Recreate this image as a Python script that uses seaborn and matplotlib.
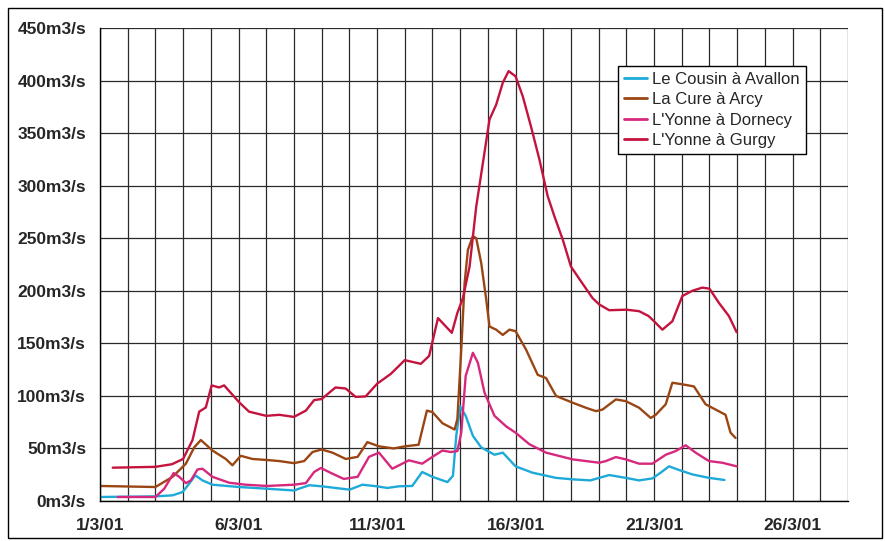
import matplotlib
matplotlib.use("Agg")
import matplotlib.pyplot as plt
import seaborn as sns
import pandas as pd
from matplotlib.ticker import MultipleLocator, FixedLocator
from matplotlib.patches import Rectangle

# ---- data (days since 1/3/01, discharge m3/s) ----
cousin_days = [0, 2, 2.62, 2.98, 3.22, 3.44, 3.7, 4.06, 5.02, 6.02, 7, 7.55, 8, 8.5, 9.01, 9.47,
               9.99, 10.37, 10.8, 11.27, 11.63, 12, 12.54, 12.74, 12.86, 13.0, 13.2, 13.46, 13.76,
               14.24, 14.54, 15, 15.6, 16.46, 17.06, 17.7, 18.02, 18.38, 18.98, 19.46, 19.94, 20.24,
               20.54, 20.9, 21.38, 21.98, 22.54]
cousin_vals = [3.8, 4.4, 5.4, 8.5, 16.5, 24.4, 19.6, 15.5, 13.3, 11.7, 10, 15, 14, 12.4, 10.8, 15.5,
               14, 12.4, 14, 14.3, 27.6, 23, 18, 24, 62, 90, 81, 62, 51,
               44, 46, 33, 27, 22, 20.6, 19.6, 22, 24.7, 22, 19.6, 21.5, 27,
               33, 29.5, 25.3, 22, 20]

cure_days = [0, 2, 2.62, 3.1, 3.4, 3.64, 4.06, 4.54, 4.78, 5.08, 5.5, 6.02, 6.47, 7, 7.37, 7.67, 8,
             8.39, 8.87, 9.3, 9.65, 10.07, 10.6, 11, 11.5, 11.8, 12, 12.36, 12.8, 12.9, 13.04, 13.16,
             13.28, 13.46, 13.58, 13.76, 13.94, 14.06, 14.3, 14.54, 14.78, 15, 15.38, 15.8, 16.1,
             16.46, 17.06, 17.54, 17.9, 18.14, 18.62, 18.98, 19.46, 19.88, 20.06, 20.42, 20.66,
             21.02, 21.44, 21.86, 22.22, 22.58, 22.76, 22.94]
cure_vals = [14.3, 13.3, 23, 35.5, 51, 58, 48, 40, 34, 43, 40, 39, 38, 36, 38, 46.6, 49,
             46, 40, 42, 56, 52, 50, 52, 53.5, 86, 84.6, 74, 68, 78, 144, 207,
             239, 252, 250, 226.5, 192, 166, 163, 158, 163, 161.6, 144, 120, 117,
             100, 93.5, 88.7, 85.5, 87, 96.6, 95, 88.7, 79, 82, 92, 112.5,
             111, 109, 92, 87, 82, 65, 60]

dornecy_days = [0.64, 2, 2.32, 2.66, 2.86, 3.1, 3.28, 3.52, 3.7, 4.06, 4.66, 5.26, 6.02, 7, 7.43,
                7.73, 7.97, 8.39, 8.8, 9.3, 9.71, 10.07, 10.55, 11.15, 11.63, 12, 12.36, 12.66, 12.9,
                13.04, 13.2, 13.46, 13.64, 13.88, 14.24, 14.66, 15, 15.5, 16.1, 17.06, 18.02, 18.26,
                18.62, 18.98, 19.46, 19.94, 20.42, 20.78, 21.14, 21.5, 21.98, 22.46, 22.98]
dornecy_vals = [3.8, 3.8, 11.7, 26.6, 23, 17, 19.6, 30, 30.7, 23, 17.4, 15.5, 14.3, 15.5, 17,
                27.6, 31.4, 26, 21, 23, 42, 46, 30.7, 38.7, 35.5, 42, 48, 46.6, 47.5,
                65, 119, 141, 131.5, 103, 81, 71, 65, 54, 46, 39.6, 36.4, 38,
                41.8, 39.6, 35.5, 35.5, 44, 47.5, 53, 46, 38, 36.4, 33]

gurgy_days = [0.46, 2, 2.6, 3, 3.34, 3.58, 3.82, 4.03, 4.3, 4.48, 5.02, 5.38, 6, 6.47, 7, 7.43, 7.73, 8,
              8.5, 8.87, 9.23, 9.59, 10, 10.5, 11, 11.58, 11.88, 12.2, 12.7, 12.9, 13.1, 13.34,
              13.58, 13.8, 14.06, 14.3, 14.54, 14.75, 15, 15.26, 15.56, 15.86, 16.16, 16.4, 16.7,
              17, 17.4, 17.78, 18.02, 18.38, 19, 19.46, 19.8, 20, 20.3, 20.66, 21.02, 21.38, 21.74,
              22, 22.34, 22.7, 22.98]
gurgy_vals = [31.7, 32.5, 35, 40, 58, 85, 89, 110, 108, 110, 94, 85, 81, 82, 80, 86, 96, 97,
              108, 107, 99, 99.5, 111.5, 121, 134, 130.5, 138, 174, 160, 179, 193, 223,
              280, 318, 363, 377, 398, 409, 404, 385, 356, 325, 290, 271, 249,
              223, 207.5, 193, 187, 181.5, 182, 180.6, 176, 171, 163, 171, 195, 200, 203,
              202, 188.5, 176, 160.6]

series_names = ["Le Cousin à Avallon", "La Cure à Arcy", "L'Yonne à Dornecy", "L'Yonne à Gurgy"]
series_colors = ["#1eaad8", "#9a4614", "#d6287c", "#c4133d"]
x_tick_pos = [0, 5, 10, 15, 20, 25]
x_tick_labels = ["1/3/01", "6/3/01", "11/3/01", "16/3/01", "21/3/01", "26/3/01"]
y_ticks = [0, 50, 100, 150, 200, 250, 300, 350, 400, 450]
y_tick_labels = [f"{v}m3/s" for v in y_ticks]

frames = []
for name, d, v in zip(series_names,
                      [cousin_days, cure_days, dornecy_days, gurgy_days],
                      [cousin_vals, cure_vals, dornecy_vals, gurgy_vals]):
    frames.append(pd.DataFrame({"day": d, "q": v, "station": name}))
df = pd.concat(frames, ignore_index=True)

sns.set_style("white")
plt.rcParams["font.family"] = ["Liberation Sans", "DejaVu Sans"]

fig = plt.figure(figsize=(8.85, 5.41), dpi=100)
ax = fig.add_axes([100 / 885, 1 - 501 / 541, (848 - 100) / 885, (501 - 28) / 541])

sns.lineplot(data=df, x="day", y="q", hue="station", hue_order=series_names,
             palette=dict(zip(series_names, series_colors)), estimator=None, sort=False,
             linewidth=1.7, ax=ax)

ax.set_xlim(0, 27)
ax.set_ylim(0, 450)
ax.xaxis.set_major_locator(FixedLocator(x_tick_pos))
ax.set_xticklabels(x_tick_labels, fontsize=12.5, fontweight="bold")
ax.xaxis.set_minor_locator(MultipleLocator(1))
ax.set_yticks(y_ticks)
ax.set_yticklabels(y_tick_labels, fontsize=12.5, fontweight="bold")
ax.set_xlabel("")
ax.set_ylabel("")

ax.grid(True, which="both", axis="x", color="#2a2a2a", linewidth=0.9)
ax.grid(True, which="major", axis="y", color="#2a2a2a", linewidth=0.9)
ax.set_axisbelow(True)
for s in ["top", "right"]:
    ax.spines[s].set_visible(False)
for s in ["left", "bottom"]:
    ax.spines[s].set_color("black")
    ax.spines[s].set_linewidth(1.0)
ax.tick_params(axis="x", which="major", direction="out", length=4, width=1, color="black", pad=8)
ax.tick_params(axis="x", which="minor", length=0)
ax.tick_params(axis="y", which="major", direction="out", length=4, width=1, color="black", pad=6)

leg = ax.legend(loc="upper left", bbox_to_anchor=(618 / 885, 1 - 66 / 541),
                bbox_transform=fig.transFigure, frameon=True, fancybox=False, framealpha=1,
                edgecolor="black", fontsize=12, handlelength=1.4, handletextpad=0.3,
                labelspacing=0.33, borderpad=0.35, borderaxespad=0)
leg.get_frame().set_linewidth(1.0)
for line in leg.get_lines():
    line.set_linewidth(2.0)

fig.patches.append(Rectangle((8 / 885, 3 / 541), (882 - 8) / 885, (533 - 3) / 541,
                             transform=fig.transFigure, fill=False, edgecolor="black",
                             linewidth=1.0))

fig.savefig("out.png", dpi=100)
